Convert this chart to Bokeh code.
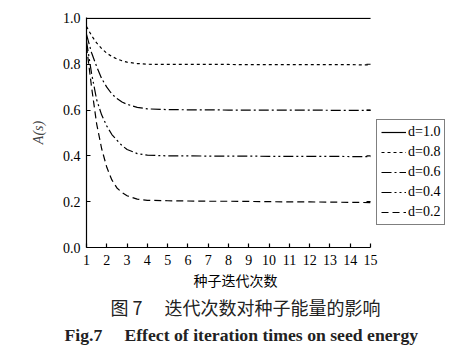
from bokeh.plotting import figure
from bokeh.models import (Range1d, FixedTicker, Legend, LegendItem, Title, CustomJSTickFormatter)
from bokeh.embed import file_html
from bokeh.resources import INLINE

# ---- data ----
iterations = [1, 1.25, 1.5, 1.75, 2, 2.25, 2.5, 2.75, 3, 3.5, 4, 5, 6, 7, 8, 9, 10, 11, 12, 13, 14, 15]
a_d10 = [1.0] * 22
a_d08 = [0.965, 0.925, 0.893, 0.868, 0.848, 0.834, 0.823, 0.815, 0.809, 0.803, 0.800, 0.799,
         0.799, 0.799, 0.799, 0.798, 0.798, 0.798, 0.798, 0.798, 0.798, 0.797]
a_d06 = [0.93, 0.85, 0.79, 0.737, 0.70, 0.67, 0.65, 0.635, 0.625, 0.612, 0.605, 0.602,
         0.601, 0.601, 0.600, 0.600, 0.600, 0.600, 0.600, 0.599, 0.599, 0.599]
a_d04 = [0.90, 0.76, 0.645, 0.578, 0.53, 0.493, 0.468, 0.445, 0.428, 0.41, 0.403, 0.400,
         0.400, 0.399, 0.399, 0.399, 0.398, 0.398, 0.398, 0.398, 0.397, 0.397]
a_d02 = [0.88, 0.70, 0.54, 0.43, 0.35, 0.295, 0.26, 0.24, 0.226, 0.211, 0.206, 0.204,
         0.203, 0.202, 0.202, 0.201, 0.200, 0.199, 0.199, 0.198, 0.197, 0.196]
series_labels = ["d=1.0", "d=0.8", "d=0.6", "d=0.4", "d=0.2"]
x_ticks = list(range(1, 16))
y_ticks = [0.0, 0.2, 0.4, 0.6, 0.8, 1.0]
x_title = "种子迭代次数"
y_title = "A(s)"
caption_cn = "图\u00a07\u3000\u00a0迭代次数对种子能量的影响"
caption_en = "Fig.7\u2003\u00a0Effect of iteration times on seed energy"

SERIF = "Liberation Serif"

# frame spans x=1 .. ~18.94 so that the legend (beyond the x=15 end) stays inside the frame
p = figure(width=468, height=357, output_backend="svg", toolbar_location=None,
           x_range=Range1d(1, 18.94), y_range=Range1d(0, 1.004),
           min_border_left=86, min_border_right=18, min_border_top=17, min_border_bottom=110)
p.outline_line_color = None
p.grid.grid_line_color = None
p.background_fill_color = "white"

for ax in (p.xaxis[0], p.yaxis[0]):
    ax.major_tick_in = 4
    ax.major_tick_out = 0
    ax.minor_tick_in = 0
    ax.minor_tick_out = 0
    ax.axis_line_color = "black"
    ax.axis_line_width = 1.2
    ax.major_tick_line_width = 1.2
    ax.major_label_text_font = SERIF
    ax.major_label_text_font_size = "14px"
    ax.major_label_text_color = "black"

p.xaxis[0].ticker = FixedTicker(ticks=x_ticks)
p.xaxis[0].bounds = (x_ticks[0], x_ticks[-1])
p.yaxis[0].ticker = FixedTicker(ticks=y_ticks)
p.yaxis[0].formatter = CustomJSTickFormatter(code="return tick.toFixed(1);")
p.xaxis[0].major_label_standoff = 7
p.yaxis[0].major_label_standoff = 6

p.yaxis[0].axis_label = y_title
p.yaxis[0].axis_label_text_font = SERIF
p.yaxis[0].axis_label_text_font_style = "italic"
p.yaxis[0].axis_label_text_font_size = "14px"
p.yaxis[0].axis_label_standoff = 14

# inward ticks on the right edge (x = last tick)
inner_y = y_ticks[1:-1]
p.segment(x0=[x_ticks[-1]] * len(inner_y), x1=[x_ticks[-1] - 0.2] * len(inner_y),
          y0=inner_y, y1=inner_y, line_color="black", line_width=1.2)

series = [a_d10, a_d08, a_d06, a_d04, a_d02]
dashes = ["solid", "3 3", "10 3 2 3", "10 3 2 3 2 3", "7 4"]
renderers = []
for ys, dash in zip(series, dashes):
    r = p.line(iterations, ys, line_color="black", line_width=1.2, line_dash=dash)
    renderers.append(r)

legend = Legend(items=[LegendItem(label=lab, renderers=[r]) for lab, r in zip(series_labels, renderers)],
                location=(290, 22))
legend.border_line_color = "black"
legend.border_line_width = 1.2
legend.label_text_font = SERIF
legend.label_text_font_size = "14px"
legend.label_text_color = "black"
legend.glyph_width = 25
legend.glyph_height = 14
legend.label_height = 14
legend.spacing = 4
legend.padding = 4
legend.margin = 0
legend.label_standoff = 2
legend.background_fill_alpha = 1.0
p.add_layout(legend, "center")

t0 = Title(text=x_title, align="left", offset=107, text_font="Noto Sans CJK SC",
           text_font_size="14px", text_font_style="normal", text_color="black", standoff=0)
t1 = Title(text=caption_cn, align="left", offset=24, text_font="Noto Sans CJK SC",
           text_font_size="18px", text_font_style="normal", text_color="#222222", standoff=4)
t2 = Title(text=caption_en, align="left", offset=-22, text_font=SERIF,
           text_font_size="17.7px", text_font_style="bold", text_color="#222222", standoff=3)
p.add_layout(t0, "below")
p.add_layout(t1, "below")
p.add_layout(t2, "below")

open("out.html", "w").write(file_html(p, INLINE))
